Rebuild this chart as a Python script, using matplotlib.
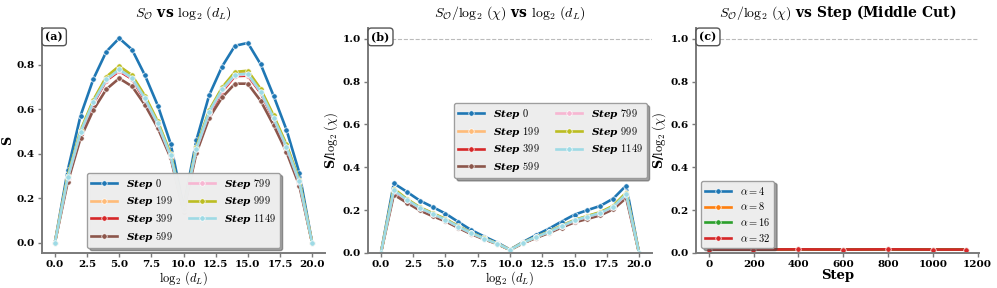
import numpy as np
import matplotlib
matplotlib.use("Agg")
from matplotlib import pyplot as plt

plt.rcParams['font.family'] = 'serif'
plt.rcParams['font.serif'] = ['DejaVu Serif']
plt.rcParams['font.weight'] = 'bold'
plt.rcParams['axes.labelweight'] = 'bold'
plt.rcParams['axes.titleweight'] = 'bold'
plt.rcParams['mathtext.fontset'] = 'cm'

# ---- data ----
log2_dL = list(range(21))
steps = [0, 199, 399, 599, 799, 999, 1149]

# panel (a): S_O vs log2(d_L)
S_step0    = [0, 0.325, 0.571, 0.736, 0.858, 0.918, 0.867, 0.752, 0.616, 0.445, 0.160, 0.460, 0.663, 0.791, 0.884, 0.897, 0.801, 0.660, 0.508, 0.315, 0]
S_step199  = [0, 0.295, 0.500, 0.638, 0.742, 0.790, 0.750, 0.655, 0.540, 0.395, 0.150, 0.425, 0.590, 0.692, 0.763, 0.770, 0.688, 0.568, 0.438, 0.278, 0]
S_step399  = [0, 0.288, 0.490, 0.625, 0.728, 0.770, 0.735, 0.640, 0.530, 0.388, 0.148, 0.418, 0.578, 0.678, 0.748, 0.750, 0.672, 0.555, 0.428, 0.270, 0]
S_step599  = [0, 0.272, 0.470, 0.597, 0.689, 0.738, 0.702, 0.619, 0.515, 0.381, 0.140, 0.402, 0.561, 0.652, 0.714, 0.714, 0.637, 0.528, 0.408, 0.257, 0]
S_step799  = [0, 0.290, 0.495, 0.630, 0.732, 0.775, 0.738, 0.645, 0.533, 0.390, 0.149, 0.420, 0.583, 0.684, 0.752, 0.755, 0.676, 0.558, 0.430, 0.272, 0]
S_step999  = [0, 0.300, 0.505, 0.642, 0.745, 0.793, 0.752, 0.660, 0.545, 0.400, 0.152, 0.430, 0.595, 0.697, 0.767, 0.772, 0.690, 0.572, 0.442, 0.282, 0]
S_step1149 = [0, 0.293, 0.498, 0.633, 0.733, 0.778, 0.740, 0.648, 0.536, 0.392, 0.150, 0.423, 0.588, 0.688, 0.755, 0.758, 0.678, 0.560, 0.432, 0.275, 0]

# panel (b): S_O / log2(chi) vs log2(d_L)
N_step0    = [0, 0.325, 0.286, 0.245, 0.215, 0.184, 0.145, 0.107, 0.077, 0.049, 0.016, 0.051, 0.083, 0.113, 0.147, 0.179, 0.200, 0.220, 0.254, 0.315, 0]
N_step199  = [0, 0.295, 0.250, 0.213, 0.186, 0.158, 0.125, 0.094, 0.068, 0.044, 0.015, 0.047, 0.074, 0.099, 0.127, 0.154, 0.172, 0.189, 0.219, 0.278, 0]
N_step399  = [0, 0.288, 0.245, 0.208, 0.182, 0.154, 0.123, 0.091, 0.066, 0.043, 0.015, 0.046, 0.072, 0.097, 0.125, 0.150, 0.168, 0.185, 0.214, 0.270, 0]
N_step599  = [0, 0.272, 0.235, 0.199, 0.172, 0.148, 0.117, 0.088, 0.064, 0.042, 0.014, 0.045, 0.070, 0.093, 0.119, 0.143, 0.159, 0.176, 0.204, 0.257, 0]
N_step799  = [0, 0.290, 0.248, 0.210, 0.183, 0.155, 0.123, 0.092, 0.067, 0.043, 0.015, 0.047, 0.073, 0.098, 0.125, 0.151, 0.169, 0.186, 0.215, 0.272, 0]
N_step999  = [0, 0.300, 0.253, 0.214, 0.186, 0.159, 0.125, 0.094, 0.068, 0.044, 0.015, 0.048, 0.074, 0.100, 0.128, 0.154, 0.173, 0.191, 0.221, 0.282, 0]
N_step1149 = [0, 0.293, 0.249, 0.211, 0.183, 0.156, 0.123, 0.093, 0.067, 0.044, 0.015, 0.047, 0.074, 0.098, 0.126, 0.152, 0.170, 0.187, 0.216, 0.275, 0]

# panel (c): middle cut vs step
alphas = [4, 8, 16, 32]
mid_a4  = [0.016, 0.016, 0.017, 0.016, 0.017, 0.016, 0.016]
mid_a8  = [0.016, 0.016, 0.017, 0.016, 0.017, 0.016, 0.016]
mid_a16 = [0.016, 0.016, 0.017, 0.016, 0.017, 0.016, 0.016]
mid_a32 = [0.016, 0.016, 0.017, 0.016, 0.017, 0.016, 0.016]

S_all = [S_step0, S_step199, S_step399, S_step599, S_step799, S_step999, S_step1149]
N_all = [N_step0, N_step199, N_step399, N_step599, N_step799, N_step999, N_step1149]
mid_all = [mid_a4, mid_a8, mid_a16, mid_a32]

colors = plt.cm.tab20(np.linspace(0, 1, len(steps)))
spine_col = '#7a7a7a'

fig = plt.figure(figsize=(9.97, 2.88), dpi=100)
W, H = 997., 288.
def box(l, r, t, b):
	return [l/W, 1-b/H, (r-l)/W, (b-t)/H]
axa = fig.add_axes(box(42, 325, 28, 253))
axb = fig.add_axes(box(368, 652, 28, 253))
axc = fig.add_axes(box(696, 979, 28, 253))

lkw = dict(lw=1.9, marker='o', ms=3.9, mec='white', mew=0.5)

for i, s in enumerate(steps):
	axa.plot(log2_dL, S_all[i], color=colors[i], label="Step $%d$" % s, **lkw)
	axb.plot(log2_dL, N_all[i], color=colors[i], label="Step $%d$" % s, **lkw)
for j, a in enumerate(alphas):
	axc.plot(steps, mid_all[j], color='C%d' % j, label=r"$\alpha=%d$" % a, **lkw)

for ax in (axb, axc):
	ax.axhline(1.0, color='#bbbbbb', ls='--', lw=0.8)
	ax.set_ylim(0, 1.05)

legprop = {'style': 'italic', 'weight': 'bold', 'size': 7.5}
lg_kw = dict(frameon=True, fancybox=True, shadow=True, facecolor='#f2f2f2', edgecolor='#999999',
             framealpha=0.95, handlelength=2.5, labelspacing=0.35)
axa.legend(loc='lower center', ncol=2, prop=legprop, columnspacing=1.6, **lg_kw)
axb.legend(loc='center right', ncol=2, prop=legprop, columnspacing=1.6, **lg_kw)
axc.legend(loc='lower left', prop={'size': 7.5}, **lg_kw)

axa.set_title(r"$S_{\mathcal{O}}$ vs $\log_2\,(d_L)$", fontsize=10, pad=8)
axb.set_title(r"$S_{\mathcal{O}}/\log_2\,(\chi)$ vs $\log_2\,(d_L)$", fontsize=10, pad=8)
axc.set_title(r"$S_{\mathcal{O}}/\log_2\,(\chi)$ vs Step (Middle Cut)", fontsize=10, pad=8)

axa.set_xlabel(r"$\log_2\,(d_L)$", fontsize=9, labelpad=0)
axb.set_xlabel(r"$\log_2\,(d_L)$", fontsize=9, labelpad=0)
axc.set_xlabel("Step", fontsize=9.5, labelpad=0)
axa.set_ylabel("S", fontsize=9, labelpad=2)
axb.set_ylabel(r"S/$\log_2\,(\chi)$", fontsize=9, labelpad=2)
axc.set_ylabel(r"S/$\log_2\,(\chi)$", fontsize=9, labelpad=2)

for ax, tag in zip((axa, axb, axc), ('(a)', '(b)', '(c)')):
	for sp in ('top', 'right'):
		ax.spines[sp].set_visible(False)
	for sp in ('left', 'bottom'):
		ax.spines[sp].set_color(spine_col)
		ax.spines[sp].set_linewidth(1.4)
	ax.tick_params(colors=spine_col, labelcolor='black', labelsize=7.5, length=3, width=1, pad=2)
	ax.text(0.012, 0.985, tag, transform=ax.transAxes, ha='left', va='top', fontsize=8, fontweight='bold',
	        bbox=dict(boxstyle='round,pad=0.3', fc='white', ec='#555555', lw=1))

axa.set_xticks([0, 2.5, 5, 7.5, 10, 12.5, 15, 17.5, 20])
axb.set_xticks([0, 2.5, 5, 7.5, 10, 12.5, 15, 17.5, 20])
axc.set_xticks([0, 200, 400, 600, 800, 1000, 1200])

fig.savefig("out.png", dpi=100)
